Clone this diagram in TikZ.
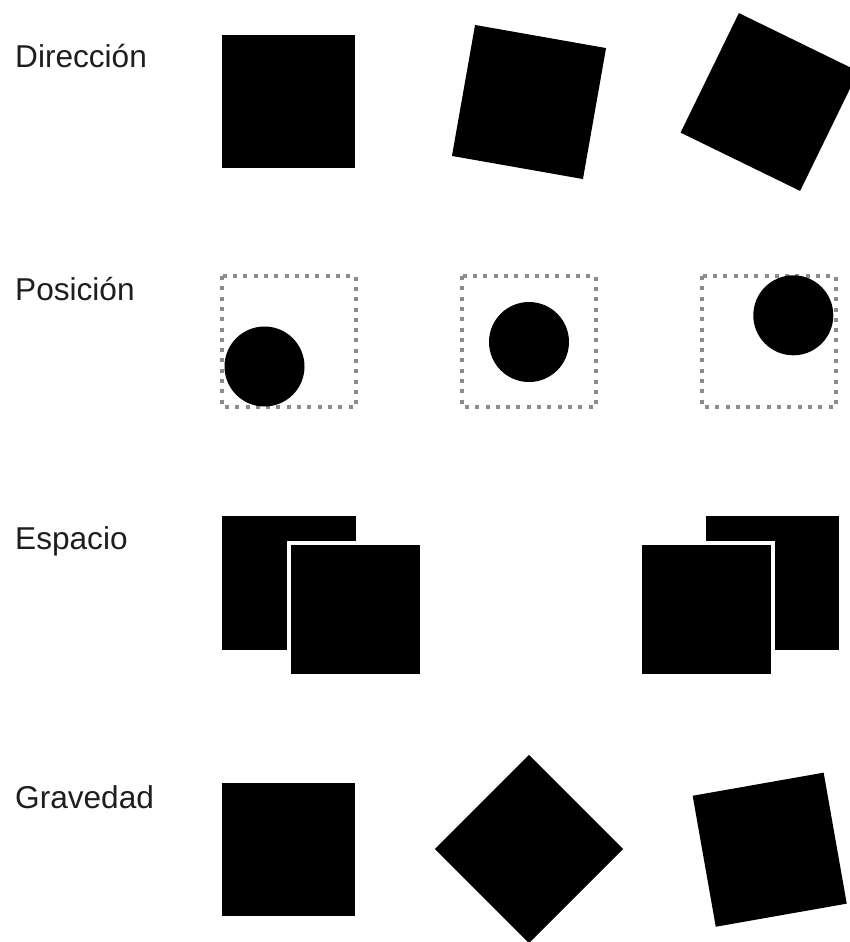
\documentclass[tikz,border=0pt]{standalone}
\usepackage{fontspec}
\setmainfont{Liberation Sans}
\definecolor{txt}{RGB}{30,30,30}
\definecolor{dotgray}{RGB}{140,140,140}
\begin{document}
\begin{tikzpicture}[x=1pt,y=-1pt,
  lbl/.style={anchor=base west,inner sep=0pt,text=txt,font=\fontsize{31.6}{32}\selectfont},
  sq/.style={fill=black},
  frontsq/.style={fill=black,draw=white,line width=4pt},
  dotbox/.style={draw=dotgray,line width=4pt,dash pattern=on 4pt off 6.3pt},
  ball/.style={fill=black}]
\useasboundingbox[fill=white] (0,0) rectangle (850,942);
% labels
\node[lbl] (l1) at (15,67) {Dirección};
\node[lbl] (l2) at (15,300) {Posición};
\node[lbl] (l3) at (15,549) {Espacio};
\node[lbl] (l4) at (15,808) {Gravedad};
% Direccion
\fill[sq] (222,35) rectangle (355,168);
\fill[sq,shift={(529,102)},rotate=-10] (-66.5,-66.5) rectangle (66.5,66.5);
\fill[sq,shift={(769.5,102)},rotate=-26] (-66.5,-66.5) rectangle (66.5,66.5);
% Posicion
\draw[dotbox] (222,276) rectangle (356,407);
\fill[ball] (264.5,366.5) circle[radius=40];
\draw[dotbox] (462,276) rectangle (596,407);
\fill[ball] (529,342) circle[radius=40];
\draw[dotbox] (702,276) rectangle (836,407);
\fill[ball] (793.3,315.3) circle[radius=40];
% Espacio
\fill[sq] (222,516) rectangle (355.5,649.5);
\filldraw[frontsq] (288.5,543) rectangle (421.5,676);
\fill[sq] (706,516) rectangle (839,649.5);
\filldraw[frontsq] (639.5,543) rectangle (772.5,676);
% Gravedad
\fill[sq] (222,783) rectangle (355,916);
\fill[sq,shift={(529,849)},rotate=45] (-66.5,-66.5) rectangle (66.5,66.5);
\fill[sq,shift={(769.7,849.7)},rotate=10] (-66.5,-66.5) rectangle (66.5,66.5);
\end{tikzpicture}
\end{document}
